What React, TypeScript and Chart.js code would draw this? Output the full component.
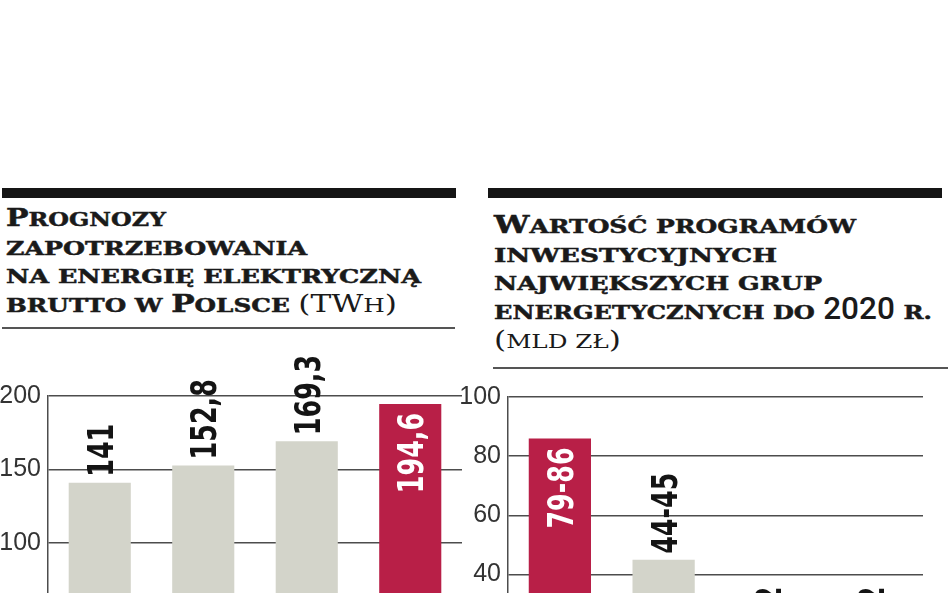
import React, { useEffect, useLayoutEffect, useRef } from "react";
import { Chart, registerables } from "chart.js";

Chart.register(...registerables);

// ---------- data ----------
const demandCategories = ["2010", "2015", "2020", "2030"];
const demandValues = [141, 152.8, 169.3, 194.6];
const demandLabels = ["141", "152,8", "169,3", "194,6"];
const demandHighlight = [false, false, false, true];
const demandMax = 200;
const demandStep = 50;

const investCategories = ["PGE", "Tauron", "Enea", "Energa"];
const investValues = [86, 45, 22, 22];
const investLabels = ["79-86", "44-45", "22", "22"];
const investHighlight = [true, false, false, false];
const investMax = 100;
const investStep = 20;

// title lines: [text, bold]
const leftTitleLines: [string, boolean][][] = [
  [["Prognozy", true]],
  [["zapotrzebowania", true]],
  [["na energię elektryczną", true]],
  [["brutto w Polsce ", true], ["(TWh)", false]],
];
const rightTitleLines: [string, boolean][][] = [
  [["Wartość programów", true]],
  [["inwestycyjnych", true]],
  [["największych grup", true]],
  [["energetycznych do 2020 r.", true]],
  [["(mld zł)", false]],
];
// target widths of the title lines (layout)
const leftTitleWidths = [160, 301, 415, 391];
const rightTitleWidths = [362, 283, 328, 438, 127];

// ---------- style ----------
const GRAY = "#d3d4ca";
const RED = "#b81f47";
const GRID = "#4d4d4d";
const LABEL_FONT = "'DejaVu Sans', sans-serif";
const TICK_FONT = "'Liberation Sans', 'Roboto', sans-serif";
const LABEL_SIZE = 36;
const SERIF = "'DejaVu Serif', serif";

function renderRuns(text: string, bold: boolean) {
  const out: React.ReactNode[] = [];
  const re = /(\d+)|([A-ZĄĆĘŁŃÓŚŹŻ()]+)|([^A-ZĄĆĘŁŃÓŚŹŻ()\d]+)/g;
  let m: RegExpExecArray | null;
  let k = 0;
  const weight = bold ? 700 : 400;
  const stroke = bold ? { WebkitTextStroke: "0.5px #1a1a1a" } : {};
  while ((m = re.exec(text))) {
    if (m[1]) {
      out.push(
        <span
          key={k++}
          style={{
            fontFamily: "Roboto, 'Liberation Sans', sans-serif",
            fontSize: 31,
            fontWeight: 500,
            lineHeight: 0,
            display: "inline-block",
            transform: "scaleX(0.8)",
            transformOrigin: "0 0",
            marginRight: -14,
          }}
        >
          {m[1]}
        </span>
      );
    } else if (m[2]) {
      out.push(
        <span key={k++} style={{ fontSize: 24, fontWeight: weight, lineHeight: 0, ...stroke }}>
          {m[2]}
        </span>
      );
    } else if (m[3]) {
      out.push(
        <span key={k++} style={{ fontSize: 19, fontWeight: weight, textTransform: "uppercase", ...stroke }}>
          {m[3]}
        </span>
      );
    }
  }
  return out;
}

function TitleLine({ segs, target }: { segs: [string, boolean][]; target: number }) {
  const outer = useRef<HTMLDivElement | null>(null);
  const inner = useRef<HTMLSpanElement | null>(null);
  useLayoutEffect(() => {
    if (!outer.current || !inner.current) return;
    const w = inner.current.getBoundingClientRect().width;
    if (w > 0) outer.current.style.transform = `scaleX(${target / w})`;
  }, []);
  return (
    <div ref={outer} style={{ transformOrigin: "0 0", height: "28.7px" }}>
      <span ref={inner}>
        {segs.map(([t, b], j) => (
          <React.Fragment key={j}>{renderRuns(t, b)}</React.Fragment>
        ))}
      </span>
    </div>
  );
}

function Title({
  lines,
  widths,
  left,
  top,
}: {
  lines: [string, boolean][][];
  widths: number[];
  left: number;
  top: number;
}) {
  return (
    <div
      style={{
        position: "absolute",
        left,
        top,
        fontFamily: SERIF,
        fontSize: 19,
        lineHeight: "28.7px",
        color: "#1a1a1a",
        whiteSpace: "nowrap",
      }}
    >
      {lines.map((segs, i) => (
        <TitleLine key={i} segs={segs} target={widths[i]} />
      ))}
    </div>
  );
}

function makeLabelPlugin(labels: string[], inside: boolean[]) {
  return {
    id: "valueLabels",
    afterDatasetsDraw(chart: any) {
      const ctx = chart.ctx as CanvasRenderingContext2D;
      const meta = chart.getDatasetMeta(0);
      ctx.save();
      ctx.font = `bold ${LABEL_SIZE}px ${LABEL_FONT}`;
      ctx.textBaseline = "alphabetic";
      const digitW = ctx.measureText("0").width;
      const sx = (LABEL_SIZE * 0.49) / digitW;
      meta.data.forEach((el: any, i: number) => {
        const { x, y } = el.getProps(["x", "y"], true);
        ctx.save();
        ctx.translate(x, y);
        ctx.rotate(-Math.PI / 2);
        if (inside[i]) {
          ctx.fillStyle = "#ffffff";
          ctx.textAlign = "right";
          ctx.translate(-9, 0);
          ctx.scale(sx, 1);
          ctx.fillText(labels[i], 0, LABEL_SIZE * 0.365);
        } else {
          ctx.fillStyle = "#141414";
          ctx.textAlign = "left";
          ctx.translate(6, 0);
          ctx.scale(sx, 1);
          ctx.fillText(labels[i], 0, LABEL_SIZE * 0.365);
        }
        ctx.restore();
      });
      ctx.restore();
    },
  };
}

type BarProps = {
  categories: string[];
  values: number[];
  labels: string[];
  highlight: boolean[];
  max: number;
  step: number;
  left: number;
  top: number;
  width: number;
  height: number;
  padding: { top: number; bottom: number; left: number; right: number };
};

function BarChart(p: BarProps) {
  const ref = useRef<HTMLCanvasElement | null>(null);
  useEffect(() => {
    if (!ref.current) return;
    const chart = new Chart(ref.current, {
      type: "bar",
      data: {
        labels: p.categories,
        datasets: [
          {
            data: p.values,
            backgroundColor: p.highlight.map((h) => (h ? RED : GRAY)),
            borderWidth: 0,
            barPercentage: 0.6,
            categoryPercentage: 1,
          },
        ],
      },
      options: {
        animation: false,
        responsive: false,
        devicePixelRatio: 1,
        layout: { padding: p.padding },
        plugins: { legend: { display: false }, tooltip: { enabled: false }, title: { display: false } },
        scales: {
          x: { display: false },
          y: {
            min: 0,
            max: p.max,
            afterFit: (scale: any) => {
              scale.width = 48;
            },
            ticks: {
              stepSize: p.step,
              padding: 7,
              color: "#333333",
              font: { family: TICK_FONT, size: 25 },
            },
            grid: { color: GRID, lineWidth: 1.5, drawTicks: false },
            border: { display: true, color: GRID, width: 1.5 },
          },
        },
      },
      plugins: [makeLabelPlugin(p.labels, p.highlight)],
    });
    return () => chart.destroy();
  }, []);
  return (
    <canvas
      ref={ref}
      width={p.width}
      height={p.height}
      style={{ position: "absolute", left: p.left, top: p.top, width: p.width, height: p.height }}
    />
  );
}

export default function App() {
  return (
    <div
      style={{
        position: "fixed",
        left: 0,
        top: 0,
        width: 948,
        height: 593,
        overflow: "hidden",
        background: "#ffffff",
      }}
    >
      <div style={{ position: "absolute", left: 2, top: 188, width: 454, height: 10, background: "#151515" }} />
      <div style={{ position: "absolute", left: 488, top: 188, width: 454, height: 10, background: "#151515" }} />
      <Title lines={leftTitleLines} widths={leftTitleWidths} left={6} top={205} />
      <Title lines={rightTitleLines} widths={rightTitleWidths} left={494} top={212} />
      <div style={{ position: "absolute", left: 2, top: 327, width: 453, height: 2, background: "#555" }} />
      <div style={{ position: "absolute", left: 493, top: 367, width: 455, height: 2, background: "#555" }} />
      <BarChart
        categories={demandCategories}
        values={demandValues}
        labels={demandLabels}
        highlight={demandHighlight}
        max={demandMax}
        step={demandStep}
        left={0}
        top={330}
        width={470}
        height={382}
        padding={{ top: 66, bottom: 20, left: 0, right: 8 }}
      />
      <BarChart
        categories={investCategories}
        values={investValues}
        labels={investLabels}
        highlight={investHighlight}
        max={investMax}
        step={investStep}
        left={460}
        top={370}
        width={480}
        height={345}
        padding={{ top: 27, bottom: 20, left: 0, right: 17 }}
      />
    </div>
  );
}
